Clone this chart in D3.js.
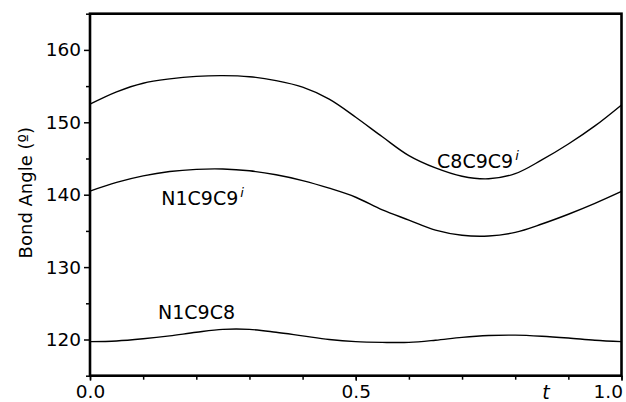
<!DOCTYPE html>
<html>
<head>
<meta charset="utf-8">
<script src="https://cdn.jsdelivr.net/npm/d3@7"></script>
<style>
  body { margin: 0; background: #fff; }
  svg { display: block; font-family: "DejaVu Sans", sans-serif; }
  .domain { display: none; }
</style>
</head>
<body>
<svg id="chart" width="626" height="402"></svg>
<script>
var tValues = [0, 0.05, 0.1, 0.15, 0.2, 0.25, 0.3, 0.35, 0.4, 0.45, 0.5,
               0.55, 0.6, 0.65, 0.7, 0.75, 0.8, 0.85, 0.9, 0.95, 1.0];
var c8c9c9 = [152.5, 154.2, 155.4, 156.0, 156.35, 156.45, 156.3, 155.75, 154.85, 153.2, 150.7,
              148.0, 145.4, 143.7, 142.55, 142.2, 142.9, 144.8, 147.0, 149.5, 152.4];
var n1c9c9 = [140.5, 141.7, 142.6, 143.2, 143.5, 143.55, 143.3, 142.75, 141.95, 140.9, 139.65,
              137.9, 136.5, 135.1, 134.4, 134.3, 134.8, 135.95, 137.3, 138.8, 140.45];
var n1c9c8 = [119.7, 119.8, 120.1, 120.5, 121.0, 121.4, 121.4, 121.0, 120.5, 120.0, 119.7,
              119.6, 119.6, 119.9, 120.3, 120.55, 120.6, 120.45, 120.2, 119.9, 119.7];
var seriesNames = ["C8C9C9", "N1C9C9", "N1C9C8"];
var xTickLabels = ["0.0", "0.5", "1.0"];
var yTickValues = [120, 130, 140, 150, 160];

var svg = d3.select("#chart");
var pLeft = 90, pRight = 621.5, pTop = 13.7, pBottom = 375.7;

var x = d3.scaleLinear().domain([0, 1]).range([pLeft, pRight]);
var y = d3.scaleLinear().domain([115, 165]).range([pBottom, pTop]);

/// axes ///
// y minor ticks
svg.append("g")
    .attr("transform", "translate(" + pLeft + ",0)")
    .call(d3.axisLeft(y).tickValues(d3.range(115, 166, 10)).tickSize(4).tickFormat(""))
    .selectAll("line").attr("stroke-width", 1.5);
// y major ticks
var yAxis = svg.append("g")
    .attr("transform", "translate(" + pLeft + ",0)")
    .call(d3.axisLeft(y).tickValues(yTickValues).tickSize(6).tickPadding(3).tickFormat(d3.format("d")));
yAxis.selectAll("line").attr("stroke-width", 1.5);
yAxis.selectAll("text").attr("font-size", 18.5).attr("font-family", "DejaVu Sans").attr("fill", "#000");

// x minor ticks
svg.append("g")
    .attr("transform", "translate(0," + pBottom + ")")
    .call(d3.axisBottom(x).tickValues(d3.range(0, 11).map(function(d) { return d / 10; })).tickSize(4).tickFormat(""))
    .selectAll("line").attr("stroke-width", 1.5);
// x labels
var xAxis = svg.append("g")
    .attr("transform", "translate(0," + pBottom + ")")
    .call(d3.axisBottom(x).tickValues([0, 0.5, 1]).tickSize(5).tickPadding(4)
      .tickFormat(function(d, i) { return xTickLabels[i]; }));
xAxis.selectAll("line").attr("stroke-width", 1.5);
xAxis.selectAll("text").attr("font-size", 18.5).attr("font-family", "DejaVu Sans").attr("fill", "#000");
xAxis.selectAll(".tick").filter(function(d) { return d === 1; })
    .select("text").attr("text-anchor", "end").attr("dx", 1);

// frame
svg.append("rect")
    .attr("x", pLeft).attr("y", pTop)
    .attr("width", pRight - pLeft).attr("height", pBottom - pTop)
    .attr("fill", "none").attr("stroke", "#000").attr("stroke-width", 2.6);

/// curves ///
var line = d3.line()
    .curve(d3.curveCatmullRom)
    .x(function(d, i) { return x(tValues[i]); })
    .y(function(d) { return y(d); });

[c8c9c9, n1c9c9, n1c9c8].forEach(function(s) {
  svg.append("path")
      .datum(s)
      .attr("d", line)
      .attr("fill", "none")
      .attr("stroke", "#000")
      .attr("stroke-width", 1.4);
});

/// labels ///
function curveLabel(name, tx, vy, sup) {
  var t = svg.append("text")
      .attr("x", x(tx)).attr("y", y(vy))
      .attr("font-size", 19).attr("fill", "#000")
      .text(name);
  if (sup) {
    t.append("tspan")
        .attr("font-size", 13).attr("font-style", "italic")
        .attr("dx", 2).attr("dy", -8)
        .text("i");
  }
}
curveLabel(seriesNames[0], 0.653, 143.7, true);
curveLabel(seriesNames[1], 0.134, 138.6, true);
curveLabel(seriesNames[2], 0.128, 122.8, false);

svg.append("text")
    .attr("x", 546).attr("y", 399)
    .attr("text-anchor", "middle")
    .attr("font-size", 19).attr("font-style", "italic")
    .text("t");

svg.append("text")
    .attr("transform", "translate(32," + (y(140) - 2) + ") rotate(-90)")
    .attr("text-anchor", "middle")
    .attr("font-size", 18).attr("fill", "#000")
    .text("Bond Angle (º)");
</script>
</body>
</html>
